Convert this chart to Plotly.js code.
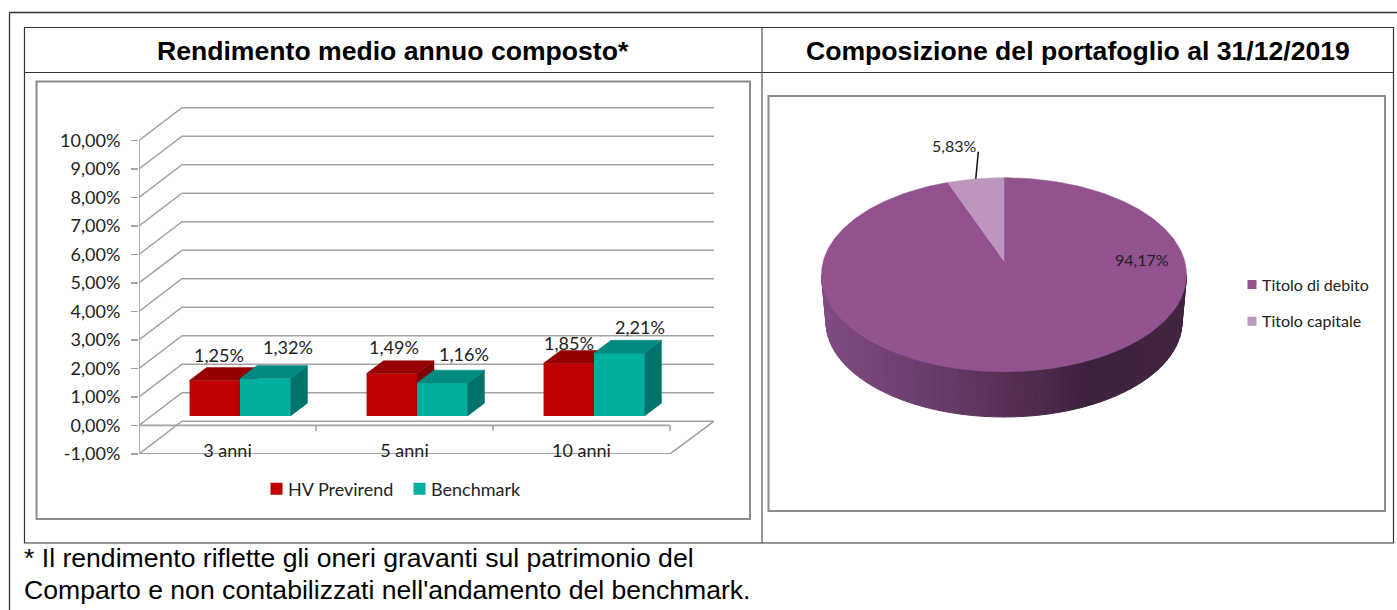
<!DOCTYPE html>
<html>
<head>
<meta charset="utf-8">
<script src="https://cdn.plot.ly/plotly-3.0.1.min.js"></script>
<style>html,body{margin:0;padding:0;background:#fff}#chart{width:1397px;height:610px}</style>
</head>
<body>
<div id="chart"></div>
<script>
// ---- data ----
const categories = ['3 anni', '5 anni', '10 anni'];
const hvPrevirend = [1.25, 1.49, 1.85];
const benchmark = [1.32, 1.16, 2.21];
const yTickVals = [-1, 0, 1, 2, 3, 4, 5, 6, 7, 8, 9, 10];
const yTickText = ['-1,00%', '0,00%', '1,00%', '2,00%', '3,00%', '4,00%', '5,00%', '6,00%', '7,00%', '8,00%', '9,00%', '10,00%'];
const sliceNames = ['Titolo di debito', 'Titolo capitale'];
const sliceValues = [94.17, 5.83];
const titleLeft = 'Rendimento medio annuo composto*';
const titleRight = 'Composizione del portafoglio al 31/12/2019';
const footnotes = ['* Il rendimento riflette gli oneri gravanti sul patrimonio del',
                   "Comparto e non contabilizzati nell'andamento del benchmark."];

// ---- page geometry helpers ----
const W = 1397, H = 610;
const px = x => x / W, py = y => 1 - y / H;
const fmt = v => v.toFixed(2).replace('.', ',') + '%';
const chartFont = 'Lato, Carlito, sans-serif';
const headFont = '"Liberation Sans", Arial, sans-serif';

// ---- 3D column chart scales ----
const xMin = -0.5, xMax = xMin + 575 / 177;
const yMin = -1, yMax = -1 + (453.9 - 100) / 28.5;
const wallDx = 43 / 177, wallDy = 32.7 / 28.5;     // depth of the chart box
const barW = 0.285, barDx = 17 / 177, barDy = 12.8 / 28.5; // width and depth of a column
const RED = '#C00000', RED_TOP = '#960000', RED_SIDE = '#800000';
const TEAL = '#00AFA0', TEAL_TOP = '#008A80', TEAL_SIDE = '#00736A';
const GRID = '#a3a3a3';
const traces = [];

// grid on side wall and back wall
const gx = [], gy = [];
yTickVals.forEach(v => { gx.push(xMin, xMin + wallDx, xMax, null); gy.push(v, v + wallDy, v + wallDy, null); });
traces.push({type:'scatter', mode:'lines', x:gx, y:gy, line:{color:GRID, width:1.6}, showlegend:false, hoverinfo:'skip'});

// value axis line, floor edges and category separators
const floorEnd = xMin + categories.length;
const fx = [xMin, xMin, null, xMin, floorEnd, xMax, null, xMin, floorEnd, null];
const fy = [yMin, 10, null, yMin, yMin, yMin + wallDy, null, 0, 0, null];
categories.forEach((c, i) => { fx.push(xMin + i + 1, xMin + i + 1, null); fy.push(0, -0.2, null); });
traces.push({type:'scatter', mode:'lines', x:fx, y:fy, line:{color:GRID, width:1.6}, showlegend:false, hoverinfo:'skip'});

// column faces
function topFaces(vals, x0) {
  const x = [], y = [];
  vals.forEach((v, i) => {
    const a = i + x0, b = a + barW;
    x.push(a, b, b + barDx, a + barDx, a, null);
    y.push(v, v, v + barDy, v + barDy, v, null);
  });
  return {x, y};
}
function sideFaces(vals, x0) {
  const x = [], y = [];
  vals.forEach((v, i) => {
    const b = i + x0 + barW;
    x.push(b, b + barDx, b + barDx, b, b, null);
    y.push(0, barDy, v + barDy, v, 0, null);
  });
  return {x, y};
}
function face(pts, color, xa, ya) {
  return {type:'scatter', mode:'lines', x:pts.x, y:pts.y, xaxis:xa, yaxis:ya, fill:'toself', fillcolor:color,
          line:{color:color, width:0.5}, showlegend:false, hoverinfo:'skip'};
}
const xCats = categories.map((c, i) => i);
traces.push({type:'bar', name:'HV Previrend', x:xCats, y:hvPrevirend, width:barW, offset:-barW, xaxis:'x2', yaxis:'y2',
             marker:{color:RED}, legend:'legend', hoverinfo:'skip'});
traces.push(face(sideFaces(hvPrevirend, -barW), RED_SIDE, 'x2', 'y2'));
traces.push(face(topFaces(hvPrevirend, -barW), RED_TOP, 'x2', 'y2'));
traces.push({type:'bar', name:'Benchmark', x:xCats, y:benchmark, width:barW, offset:0, xaxis:'x3', yaxis:'y3',
             marker:{color:TEAL}, legend:'legend', hoverinfo:'skip'});
traces.push(face(sideFaces(benchmark, 0), TEAL_SIDE, 'x3', 'y3'));
traces.push(face(topFaces(benchmark, 0), TEAL_TOP, 'x3', 'y3'));

// ---- 3D pie: drawn in ellipse units on its own axes ----
const pieCx = 1004, pieRx = 182.5, pieCy = 274.7, pieRy = 97;
const PIE_MAIN = '#92528F', PIE_LIGHT = '#BC96BC';
const apexY = (pieCy - 261) / pieRy;            // perspective moves the apex up
const baseCy = (pieCy - 322) / pieRy, baseRx = 178 / 182.5, baseRy = 95 / 97;
const angleScale = 0.857;                       // perspective narrows a slice at the far edge
const total = sliceValues[0] + sliceValues[1];
const boundary = 360 - sliceValues[1] / total * 360 * angleScale;
const rad = d => d * Math.PI / 180;

// side wall, in strips, with the light falling from the left
const sideStops = [[-1, [128, 74, 130]], [-0.5, [110, 63, 110]], [0, [88, 48, 85]], [0.47, [61, 34, 62]], [1, [65, 36, 63]]];
function sideColor(t) {
  for (let i = 0; i < sideStops.length - 1; i++) {
    const [a, ca] = sideStops[i], [b, cb] = sideStops[i + 1];
    if (t <= b) {
      const k = (t - a) / (b - a);
      return 'rgb(' + ca.map((c, j) => Math.round(c + (cb[j] - c) * k)).join(',') + ')';
    }
  }
  return 'rgb(65,36,63)';
}
for (let d = 90; d < 270; d += 3) {
  const p = [d, d + 3];
  const x = [Math.sin(rad(p[0])), Math.sin(rad(p[1])), baseRx * Math.sin(rad(p[1])), baseRx * Math.sin(rad(p[0]))];
  const y = [Math.cos(rad(p[0])), Math.cos(rad(p[1])), baseCy + baseRy * Math.cos(rad(p[1])), baseCy + baseRy * Math.cos(rad(p[0]))];
  const col = sideColor(Math.sin(rad(d + 1.5)));
  traces.push({type:'scatter', mode:'lines', x:x.concat(x[0]), y:y.concat(y[0]), xaxis:'x4', yaxis:'y4', fill:'toself',
               fillcolor:col, line:{color:col, width:1}, showlegend:false, hoverinfo:'skip'});
}
function wedge(from, to, color) {
  const x = [0], y = [apexY];
  for (let d = from; d < to; d += 1) { x.push(Math.sin(rad(d))); y.push(Math.cos(rad(d))); }
  x.push(Math.sin(rad(to)), 0); y.push(Math.cos(rad(to)), apexY);
  return {type:'scatter', mode:'lines', x, y, xaxis:'x4', yaxis:'y4', fill:'toself', fillcolor:color,
          line:{color:color, width:0.5}, showlegend:false, hoverinfo:'skip'};
}
traces.push(wedge(0, boundary, PIE_MAIN));
traces.push(wedge(boundary, 360, PIE_LIGHT));

// leader line of the small slice
const leadMid = rad((boundary + 360) / 2);
traces.push({type:'scatter', mode:'lines', xaxis:'x4', yaxis:'y4', showlegend:false, hoverinfo:'skip',
             x:[Math.sin(leadMid) * 0.99, Math.sin(leadMid) * 0.99 + 0.014],
             y:[Math.cos(leadMid), Math.cos(leadMid) + 0.28],
             line:{color:'#111', width:1.5}});

// pie legend entries
[PIE_MAIN, PIE_LIGHT].forEach((c, i) => {
  traces.push({type:'scatter', mode:'markers', name:sliceNames[i], x:[null], y:[null], xaxis:'x4', yaxis:'y4',
               marker:{symbol:'square', size:9, color:c}, legend:'legend2', legendgroup:sliceNames[i], hoverinfo:'skip'});
});

// ---- texts ----
const annotations = [];
const text = (t, x, y, size, family, anchor, bold, color) => annotations.push({
  text: bold ? '<b>' + t + '</b>' : t, xref:'paper', yref:'paper', x:px(x), y:py(y), showarrow:false,
  xanchor:anchor, yanchor:'middle', font:{family, size, color}, borderpad:0, borderwidth:0});
text(titleLeft, 393, 51, 26.6, headFont, 'center', true, '#000');
text(titleRight, 1078, 51, 26.6, headFont, 'center', true, '#000');
text(footnotes[0], 24, 558, 26.6, headFont, 'left', false, '#000');
text(footnotes[1], 24, 590, 26.6, headFont, 'left', false, '#000');

// data labels of the columns
const redShiftX = [4, 2, 0], redShiftY = [25.7, 27, 20];
const tealShiftX = [23, 22, 20.5], tealShiftY = [31, 29, 26];
const dataLabel = (v, x, xa, ya, dx, dy) => annotations.push({text:fmt(v), x, y:v, xref:xa, yref:ya, showarrow:false,
  xanchor:'center', yanchor:'middle', xshift:dx, yshift:dy, font:{family:chartFont, size:18, color:'#222'}});
hvPrevirend.forEach((v, i) => dataLabel(v, i - barW / 2, 'x2', 'y2', redShiftX[i], redShiftY[i]));
benchmark.forEach((v, i) => dataLabel(v, i + barW / 2, 'x3', 'y3', tealShiftX[i], tealShiftY[i]));

// pie data labels
const pieLabel = (v, x, y) => annotations.push({text:fmt(v), xref:'x4', yref:'y4', x, y, showarrow:false,
  xanchor:'center', yanchor:'middle', font:{family:chartFont, size:16, color:'#222'}});
pieLabel(sliceValues[0], (1141.7 - pieCx) / pieRx, (pieCy - 259) / pieRy);
pieLabel(sliceValues[1], (954 - pieCx) / pieRx, (pieCy - 145.7) / pieRy);

// ---- frames ----
const rule = (x0, y0, x1, y1, color, width) => ({type:'line', xref:'paper', yref:'paper', layer:'below',
  x0:px(x0), x1:px(x1), y0:py(y0), y1:py(y1), line:{color, width}});
const box = (x0, y0, x1, y1, color, width) => ({type:'rect', xref:'paper', yref:'paper', layer:'below',
  x0:px(x0), x1:px(x1), y0:py(y0), y1:py(y1), line:{color, width}, fillcolor:'rgba(0,0,0,0)'});
const shapes = [
  rule(9.5, 12.5, W, 12.5, '#333', 1.3), rule(9.5, 12.5, 9.5, H, '#333', 1.3),
  box(24.5, 27.5, 1393.5, 543, '#333', 1.2),
  rule(24.5, 72.5, 1393.5, 72.5, '#333', 1.2),
  rule(762, 27.5, 762, 543, '#555', 1.2),
  box(36.5, 81.5, 750, 519, '#8c8c8c', 2),
  box(768.5, 96, 1385, 511, '#8c8c8c', 2)
];

// ---- layout ----
const hidden = {visible:false, fixedrange:true};
const shift = {x:12.5, y:9.4};
const layout = {
  width:W, height:H, margin:{l:0, r:0, t:0, b:0}, paper_bgcolor:'#fff', plot_bgcolor:'rgba(0,0,0,0)',
  hovermode:false, separators:',.', barmode:'overlay', shapes, annotations,
  font:{family:chartFont, color:'#222'},
  xaxis:{domain:[px(139), px(714)], range:[xMin, xMax], anchor:'free', position:py(438), showgrid:false, zeroline:false,
         showline:false, ticks:'', tickmode:'array', tickvals:xCats, ticktext:categories, tickfont:{family:chartFont, size:18, color:'#222'}, fixedrange:true},
  yaxis:{domain:[py(453.9), py(100)], range:[yMin, yMax], anchor:'x', showgrid:false, zeroline:false, showline:false,
         ticks:'outside', ticklen:7, tickwidth:1.6, tickcolor:GRID, tickmode:'array', tickvals:yTickVals, ticktext:yTickText,
         ticklabelstandoff:7, ticklabelshift:-1.5, tickfont:{family:chartFont, size:18, color:'#222'}, fixedrange:true},
  xaxis2:{...hidden, domain:[px(139 + shift.x), px(714 + shift.x)], range:[xMin, xMax], anchor:'y2'},
  yaxis2:{...hidden, domain:[py(453.9 - shift.y), py(100 - shift.y)], range:[yMin, yMax], anchor:'x2'},
  xaxis3:{...hidden, overlaying:'x2', range:[xMin, xMax], anchor:'y3'},
  yaxis3:{...hidden, overlaying:'y2', range:[yMin, yMax], anchor:'x3'},
  xaxis4:{...hidden, domain:[px(770), px(1240)], range:[(770 - pieCx) / pieRx, (1240 - pieCx) / pieRx], anchor:'y4'},
  yaxis4:{...hidden, domain:[py(500), py(100)], range:[(pieCy - 500) / pieRy, (pieCy - 100) / pieRy], anchor:'x4'},
  legend:{orientation:'h', x:px(248), y:py(489), xanchor:'left', yanchor:'middle', bgcolor:'rgba(0,0,0,0)', borderwidth:0,
          entrywidth:98, entrywidthmode:'pixels',
          font:{family:chartFont, size:18, color:'#222'}, itemclick:false, itemdoubleclick:false},
  legend2:{orientation:'v', x:px(1222), y:py(303), xanchor:'left', yanchor:'middle', bgcolor:'rgba(0,0,0,0)', borderwidth:0,
           tracegroupgap:13, font:{family:chartFont, size:16, color:'#222'}, itemclick:false, itemdoubleclick:false}
};

Plotly.newPlot('chart', traces, layout, {displayModeBar:false, staticPlot:true}).then(gd => {
  // the reference keeps the swatches close to their texts
  gd.querySelectorAll('.legendsymbols').forEach(s => {
    s.setAttribute('transform', 'translate(' + (s.closest('.legend2') ? 10 : 8.5) + ',0)');
  });
});
</script>
</body>
</html>
